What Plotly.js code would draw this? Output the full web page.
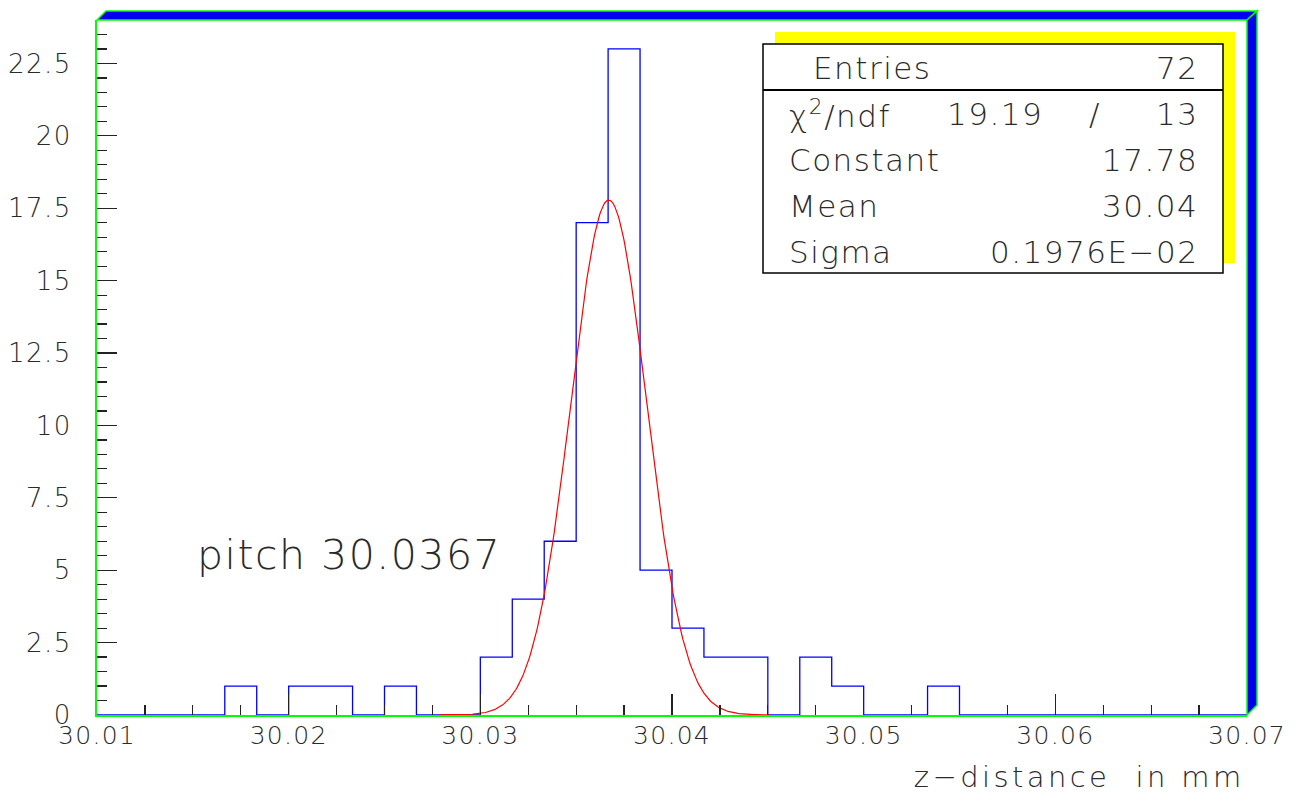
<!DOCTYPE html>
<html><head><meta charset="utf-8">
<script src="https://cdn.plot.ly/plotly-3.0.1.min.js"></script>
<style>
html,body{margin:0;padding:0;background:#fff}
#chart{width:1305px;height:793px}
text.annotation-text{letter-spacing:1.5px}
#chart .xtick text{letter-spacing:1.3px}
#chart .ytick text{letter-spacing:1.5px}
</style>
</head><body><div id="chart"></div>
<script>
// Histogram: 36 bins from 30.01 to 30.07
const xMin = 30.01, xMax = 30.07, nBins = 36;
const counts = [0,0,0,0,1,0,1,1,0,1,0,0,2,4,6,17,23,5,3,2,2,0,2,1,0,0,1,0,0,0,0,0,0,0,0,0];
// Gaussian fit parameters
const fitConstant = 17.78, fitMean = 30.0367, fitSigma = 0.001976;
const fitRange = [30.0279, 30.0451];
const statLabels = ["Entries", "χ<sup>2</sup>/ndf", "Constant", "Mean", "Sigma"];
const statValues = ["72", "13", "17.78", "30.04", "0.1976E\u221202"];
const chi2 = "19.19";
const pitchText = "pitch 30.0367";
const xTitle = "z\u2212distance  in mm";

const bw = (xMax - xMin) / nBins;
const hx = [], hy = [];
for (let i = 0; i < nBins; i++) { hx.push(xMin + i * bw); hy.push(counts[i]); }
hx.push(xMax); hy.push(counts[nBins - 1]);

const fx = [], fy = [];
const nf = 300;
for (let i = 0; i <= nf; i++) {
  const x = fitRange[0] + (fitRange[1] - fitRange[0]) * i / nf;
  fx.push(x);
  fy.push(fitConstant * Math.exp(-0.5 * Math.pow((x - fitMean) / fitSigma, 2)));
}

const font = {family: "'DejaVu Sans', sans-serif", color: "#2a2a2a", weight: 200};
const traces = [
  {x: hx, y: hy, type: "scatter", mode: "lines", line: {shape: "hv", color: "#0000ff", width: 1.3}, hoverinfo: "skip"},
  {x: fx, y: fy, type: "scatter", mode: "lines", line: {color: "#ff0000", width: 1.2}, hoverinfo: "skip"}
];

const W = 1150, H = 695, L = 97, T = 20;
const px = p => (p - L) / W;
const py = p => (T + H - p) / H;

const shapes = [
  // 3D frame bands
  {type: "path", xref: "paper", yref: "paper",
   path: `M 0 1 L ${px(106)} ${py(11)} L ${px(1257)} ${py(11)} L 1 1 Z`,
   fillcolor: "#0000ee", line: {color: "#00ff00", width: 1.5}},
  {type: "path", xref: "paper", yref: "paper",
   path: `M 1 1 L ${px(1257)} ${py(11)} L ${px(1257)} ${py(705)} L 1 0 Z`,
   fillcolor: "#0000ee", line: {color: "#00ff00", width: 1.5}},
  // stats box shadow and box
  {type: "rect", xref: "paper", yref: "paper", x0: px(775), x1: px(1235), y0: py(263), y1: py(32),
   fillcolor: "#ffff00", line: {width: 0}},
  {type: "rect", xref: "paper", yref: "paper", x0: px(763), x1: px(1223), y0: py(273), y1: py(44),
   fillcolor: "#ffffff", line: {color: "#000000", width: 1.5}},
  {type: "line", xref: "paper", yref: "paper", x0: px(763), x1: px(1223), y0: py(90), y1: py(90),
   line: {color: "#000000", width: 2}}
];

const rowY = [68, 114, 160, 206, 252];
const statFont = Object.assign({}, font, {size: 31});
const annotations = [];
statLabels.forEach((s, i) => {
  annotations.push({xref: "paper", yref: "paper", x: px(i === 0 ? 811 : 787), y: py(rowY[i]),
    xanchor: "left", yanchor: "middle", text: s, showarrow: false, font: statFont});
  annotations.push({xref: "paper", yref: "paper", x: px(1200), y: py(rowY[i]),
    xanchor: "right", yanchor: "middle", text: statValues[i], showarrow: false, font: statFont});
});
annotations.push({xref: "paper", yref: "paper", x: px(1045), y: py(114), xanchor: "right", yanchor: "middle",
  text: chi2, showarrow: false, font: statFont});
annotations.push({xref: "paper", yref: "paper", x: px(1095), y: py(114), xanchor: "center", yanchor: "middle",
  text: "/", showarrow: false, font: statFont});
annotations.push({xref: "paper", yref: "paper", x: px(195), y: py(555), xanchor: "left", yanchor: "middle",
  text: pitchText, showarrow: false, font: Object.assign({}, font, {size: 41})});
annotations.push({xref: "paper", yref: "paper", x: px(1079), y: py(777), xanchor: "center", yanchor: "middle",
  text: xTitle, showarrow: false, font: Object.assign({}, font, {size: 29})});

const layout = {
  width: 1305, height: 793,
  margin: {l: L, r: 1305 - L - W, t: T, b: 793 - T - H, pad: 0},
  paper_bgcolor: "#ffffff", plot_bgcolor: "#ffffff",
  showlegend: false,
  xaxis: {range: [xMin, xMax], dtick: 0.01, tick0: 30.01, ticks: "inside", ticklen: 21, tickwidth: 1.2,
    tickcolor: "#222", showgrid: false, zeroline: false, showline: true, linecolor: "#00ff00", linewidth: 2,
    tickfont: Object.assign({}, font, {size: 25}), ticklabelstandoff: -3, tickformat: ".2f",
    minor: {dtick: 0.0025, tick0: 30.01, ticks: "inside", ticklen: 10, tickcolor: "#222", tickwidth: 1.2, showgrid: false}},
  yaxis: {range: [0, 24], dtick: 2.5, tick0: 0, ticks: "inside", ticklen: 20, tickwidth: 1.2,
    tickcolor: "#222", showgrid: false, zeroline: false, showline: true, linecolor: "#00ff00", linewidth: 2,
    tickfont: Object.assign({}, font, {size: 26}), ticklabelstandoff: 18,
    minor: {dtick: 0.5, tick0: 0, ticks: "inside", ticklen: 10, tickcolor: "#222", tickwidth: 1.2, showgrid: false}},
  shapes: shapes,
  annotations: annotations
};

Plotly.newPlot("chart", traces, layout, {displayModeBar: false, staticPlot: true}).then(() => {
  document.querySelectorAll("#chart .annotation-text").forEach(t => {
    if (t.textContent === xTitle) t.style.letterSpacing = "3.4px";
  });
});
</script>
</body></html>
